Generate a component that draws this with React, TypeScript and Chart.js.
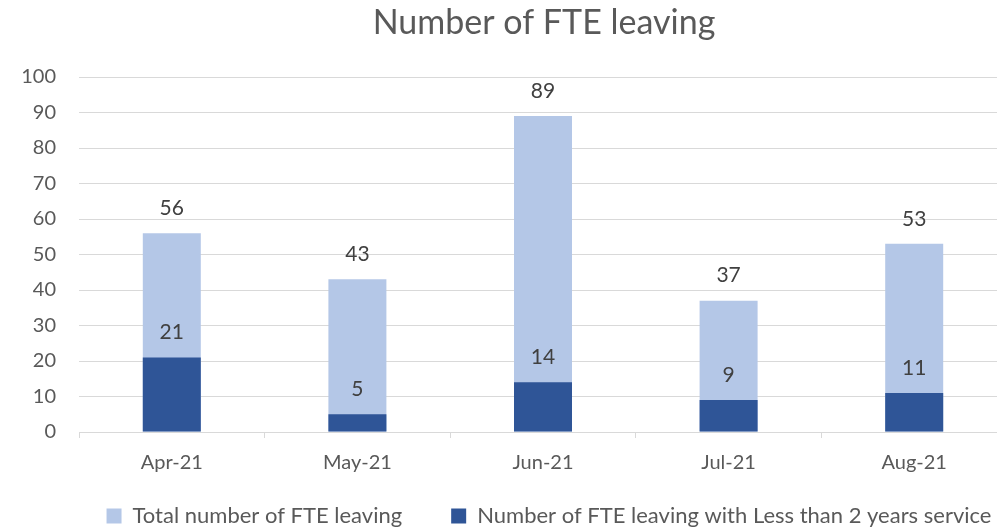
import React, { useEffect, useRef } from "react";
import { Chart, registerables } from "chart.js";

Chart.register(...registerables);

const categories = ["Apr-21", "May-21", "Jun-21", "Jul-21", "Aug-21"];
const totalLeaving = [56, 43, 89, 37, 53];
const shortService = [21, 5, 14, 9, 11];
const seriesNames = [
  "Total number of FTE leaving",
  "Number of FTE leaving with Less than 2 years service",
];
const titleText = "Number of FTE leaving";

const FONT = "Lato, 'Noto Sans', sans-serif";
const TEXT = "#595959";

const valueLabels = {
  id: "valueLabels",
  afterDatasetsDraw(chart: any) {
    const ctx = chart.ctx;
    ctx.save();
    ctx.font = `21px ${FONT}`;
    ctx.fillStyle = "#404040";
    ctx.textAlign = "center";
    ctx.textBaseline = "middle";
    chart.data.datasets.forEach((ds: any, i: number) => {
      const meta = chart.getDatasetMeta(i);
      meta.data.forEach((bar: any, j: number) => {
        ctx.fillText(String(ds.data[j]), bar.x, bar.y - 25);
      });
    });
    ctx.restore();
  },
};

// Lift the legend closer to the axis labels while keeping wide item spacing
const legendLift = {
  id: "legendLift",
  afterLayout(chart: any) {
    if (chart.legend) {
      chart.legend.top -= 20;
      chart.legend.bottom -= 20;
      chart.legend.left += 5;
      chart.legend.right += 5;
    }
  },
};

export default function App() {
  const ref = useRef<HTMLCanvasElement>(null);
  useEffect(() => {
    if (!ref.current) return;
    const chart = new Chart(ref.current, {
      type: "bar",
      data: {
        labels: categories,
        datasets: [
          {
            label: seriesNames[0],
            data: totalLeaving,
            backgroundColor: "#b4c7e7",
            grouped: false,
            order: 1,
            categoryPercentage: 1,
            barPercentage: 0.3125,
          } as any,
          {
            label: seriesNames[1],
            data: shortService,
            backgroundColor: "#2f5597",
            grouped: false,
            order: 0,
            categoryPercentage: 1,
            barPercentage: 0.3125,
          } as any,
        ],
      },
      options: {
        responsive: false,
        animation: false,
        devicePixelRatio: 1,
        layout: { padding: 0 },
        plugins: {
          title: {
            display: true,
            text: titleText,
            color: TEXT,
            font: { family: FONT, size: 34, weight: "normal" },
            padding: { top: 2.5, bottom: 33.7 },
          },
          legend: {
            position: "bottom",
            labels: {
              color: TEXT,
              font: { family: FONT, size: 22 },
              boxWidth: 15,
              boxHeight: 15,
              padding: 49,
              sort: (a: any, b: any) => a.datasetIndex - b.datasetIndex,
            },
          },
          tooltip: { enabled: false },
        },
        scales: {
          x: {
            offset: true,
            grid: {
              offset: true,
              drawOnChartArea: false,
              drawTicks: true,
              tickLength: 6,
              color: "#d9d9d9",
            },
            border: { color: "#d9d9d9" },
            ticks: {
              color: TEXT,
              font: { family: FONT, size: 20 },
              padding: 13,
            },
            afterFit: (s: any) => {
              s.height = 44;
            },
          },
          y: {
            min: 0,
            max: 100,
            ticks: {
              stepSize: 10,
              color: TEXT,
              font: { family: FONT, size: 20 },
              padding: 23,
            },
            grid: { color: "#d9d9d9", drawTicks: false },
            border: { display: false },
            afterFit: (s: any) => {
              s.width = 79;
            },
          },
          yRight: {
            position: "right",
            display: true,
            grid: { display: false, drawTicks: false },
            border: { display: false },
            ticks: { display: false },
            afterFit: (s: any) => {
              s.width = 81;
            },
          },
        },
      },
      plugins: [valueLabels, legendLift],
    });
    return () => chart.destroy();
  }, []);

  return (
    <div
      style={{
        position: "absolute",
        left: 0,
        top: 0,
        width: 997,
        height: 527,
        overflow: "hidden",
        background: "#ffffff",
      }}
    >
      <canvas ref={ref} width={1088} height={557} style={{ display: "block" }} />
    </div>
  );
}
